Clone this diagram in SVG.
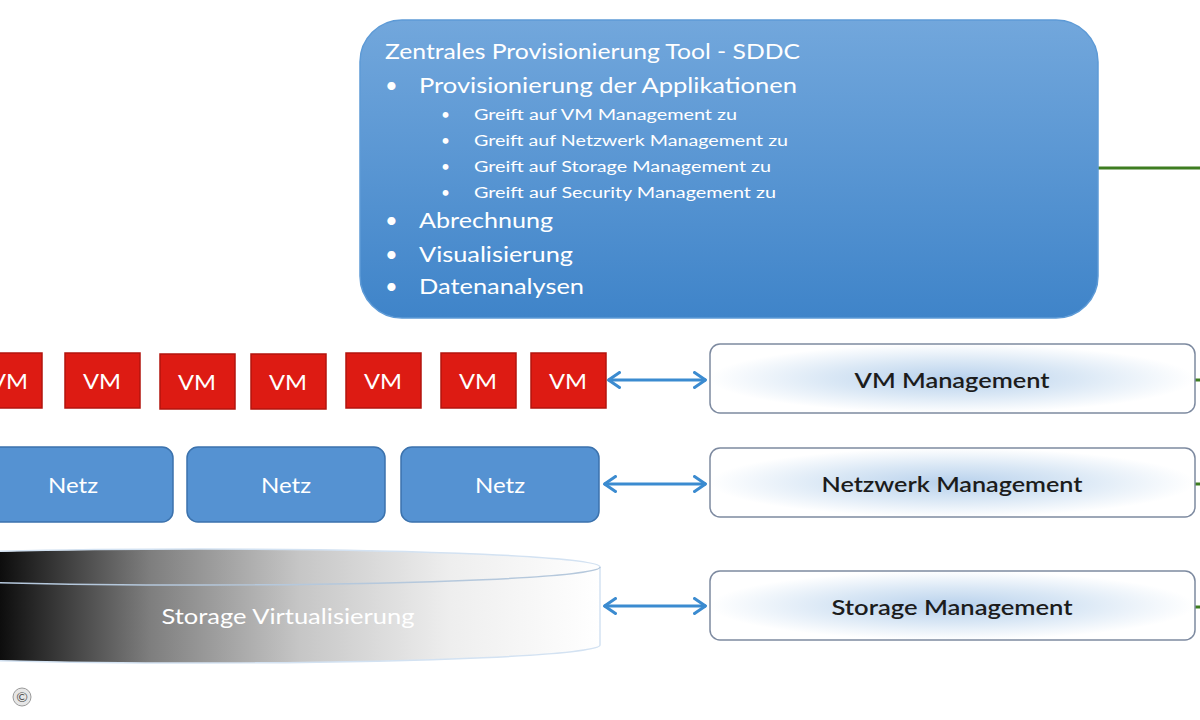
<svg xmlns="http://www.w3.org/2000/svg" width="1200" height="720" viewBox="0 0 1200 720">
<defs>
  <linearGradient id="gTop" x1="0" y1="0" x2="0" y2="1">
    <stop offset="0" stop-color="#72a7dc"/>
    <stop offset="1" stop-color="#3f84c9"/>
  </linearGradient>
  <radialGradient id="gMgmt" cx="0.5" cy="0.5" r="0.5">
    <stop offset="0" stop-color="#b8d1ec"/>
    <stop offset="0.5" stop-color="#d9e7f5"/>
    <stop offset="1" stop-color="#ffffff"/>
  </radialGradient>
  <linearGradient id="gCyl" x1="0" y1="0" x2="600" y2="0" gradientUnits="userSpaceOnUse">
    <stop offset="0" stop-color="#0d0d0d"/>
    <stop offset="0.25" stop-color="#7e7e7e"/>
    <stop offset="0.5" stop-color="#c6c6c6"/>
    <stop offset="0.75" stop-color="#eeeeee"/>
    <stop offset="1" stop-color="#ffffff"/>
  </linearGradient>
  <marker id="ah" viewBox="0 0 14 18" refX="13" refY="9" markerWidth="14" markerHeight="18" markerUnits="userSpaceOnUse" orient="auto-start-reverse">
    <path d="M1.5,1.5 L12.5,9 L1.5,16.5" fill="none" stroke="#3b8bd0" stroke-width="3" stroke-linecap="round" stroke-linejoin="round"/>
  </marker>
  <style>
    .t { font-family: Lato, "Open Sans", "Liberation Sans", sans-serif; }
    .w { fill: #ffffff; }
    .vm { fill: #dd1b13; stroke: #b3140e; stroke-width: 1.5; }
    .vmt { font-size: 21px; fill: #ffffff; text-anchor: middle; }
    .netz { fill: #5592d2; stroke: #3b72ad; stroke-width: 1.5; }
    .netzt { font-size: 21px; fill: #ffffff; text-anchor: middle; }
    .mg { fill: url(#gMgmt); stroke: #7d8aa0; stroke-width: 1.5; }
    .mgt { font-size: 21px; font-weight: 600; fill: #1c1c1c; text-anchor: middle; }
    .arr { stroke: #3b8bd0; stroke-width: 3; fill: none; marker-start: url(#ah); marker-end: url(#ah); }
    .grn { stroke: #3e7d20; stroke-width: 3; fill: none; }
    .big { font-size: 22px; }
    .ttl { font-size: 21px; }
    .small { font-size: 15.5px; }
  </style>
</defs>
<rect width="1200" height="720" fill="#ffffff"/>

<g id="connectors">
  <line class="grn" x1="1098" y1="168" x2="1200" y2="168"/>
  <line class="grn" x1="1195" y1="380" x2="1200" y2="380"/>
  <line class="grn" x1="1195" y1="484" x2="1200" y2="484"/>
  <line class="grn" x1="1195" y1="607" x2="1200" y2="607"/>
  <line class="arr" x1="608" y1="380" x2="706" y2="380"/>
  <line class="arr" x1="604" y1="484" x2="706" y2="484"/>
  <line class="arr" x1="604" y1="606" x2="706" y2="606"/>
</g>

<g id="sddc">
  <rect x="360" y="20" width="738" height="298" rx="42" fill="url(#gTop)" stroke="#5d9ad6" stroke-width="1.5"/>
  <g class="t w">
    <text x="385" y="59" class="ttl" textLength="415" lengthAdjust="spacingAndGlyphs">Zentrales Provisionierung Tool - SDDC</text>
    <text x="385" y="93" class="big">•</text>
    <text x="419" y="93" class="big" textLength="378" lengthAdjust="spacingAndGlyphs">Provisionierung der Applikationen</text>
    <text x="441" y="120" class="small">•</text>
    <text x="474" y="120" class="small" textLength="263" lengthAdjust="spacingAndGlyphs">Greift auf VM Management zu</text>
    <text x="441" y="146" class="small">•</text>
    <text x="474" y="146" class="small" textLength="314" lengthAdjust="spacingAndGlyphs">Greift auf Netzwerk Management zu</text>
    <text x="441" y="172" class="small">•</text>
    <text x="474" y="172" class="small" textLength="297" lengthAdjust="spacingAndGlyphs">Greift auf Storage Management zu</text>
    <text x="441" y="198" class="small">•</text>
    <text x="474" y="198" class="small" textLength="302" lengthAdjust="spacingAndGlyphs">Greift auf Security Management zu</text>
    <text x="385" y="228" class="big">•</text>
    <text x="419" y="228" class="big" textLength="134" lengthAdjust="spacingAndGlyphs">Abrechnung</text>
    <text x="385" y="262" class="big">•</text>
    <text x="419" y="262" class="big" textLength="154" lengthAdjust="spacingAndGlyphs">Visualisierung</text>
    <text x="385" y="294" class="big">•</text>
    <text x="419" y="294" class="big" textLength="165" lengthAdjust="spacingAndGlyphs">Datenanalysen</text>
  </g>
</g>

<g id="vms">
  <g id="vm1"><rect class="vm" x="-20" y="353" width="62" height="55"/><text class="t vmt" x="9" y="389" textLength="38" lengthAdjust="spacingAndGlyphs">VM</text></g>
  <g id="vm2"><rect class="vm" x="65" y="353" width="75" height="55"/><text class="t vmt" x="102" y="389" textLength="38" lengthAdjust="spacingAndGlyphs">VM</text></g>
  <g id="vm3"><rect class="vm" x="160" y="354" width="75" height="55"/><text class="t vmt" x="197" y="390" textLength="38" lengthAdjust="spacingAndGlyphs">VM</text></g>
  <g id="vm4"><rect class="vm" x="251" y="354" width="75" height="55"/><text class="t vmt" x="288" y="390" textLength="38" lengthAdjust="spacingAndGlyphs">VM</text></g>
  <g id="vm5"><rect class="vm" x="346" y="353" width="75" height="55"/><text class="t vmt" x="383" y="389" textLength="38" lengthAdjust="spacingAndGlyphs">VM</text></g>
  <g id="vm6"><rect class="vm" x="441" y="353" width="75" height="55"/><text class="t vmt" x="478" y="389" textLength="38" lengthAdjust="spacingAndGlyphs">VM</text></g>
  <g id="vm7"><rect class="vm" x="531" y="353" width="75" height="55"/><text class="t vmt" x="568" y="389" textLength="38" lengthAdjust="spacingAndGlyphs">VM</text></g>
</g>

<g id="netze">
  <g id="netz1"><rect class="netz" x="-20" y="447" width="193" height="75" rx="11"/><text class="t netzt" x="73" y="493" textLength="50" lengthAdjust="spacingAndGlyphs">Netz</text></g>
  <g id="netz2"><rect class="netz" x="187" y="447" width="198" height="75" rx="11"/><text class="t netzt" x="286" y="493" textLength="50" lengthAdjust="spacingAndGlyphs">Netz</text></g>
  <g id="netz3"><rect class="netz" x="401" y="447" width="198" height="75" rx="11"/><text class="t netzt" x="500" y="493" textLength="50" lengthAdjust="spacingAndGlyphs">Netz</text></g>
</g>

<g id="storage">
  <path d="M-200,567 A400,18 0 0 1 600,567 L600,645 A400,18 0 0 1 -200,645 Z" fill="url(#gCyl)" stroke="#d3e2f2" stroke-width="1.5"/>
  <path d="M-200,567 A400,18 0 0 0 600,567" fill="none" stroke="#b5c8dc" stroke-width="1.5"/>
  <text class="t" x="288" y="624" style="font-size:21px" fill="#ffffff" text-anchor="middle" textLength="253" lengthAdjust="spacingAndGlyphs">Storage Virtualisierung</text>
</g>

<g id="vm-management"><rect class="mg" x="710" y="344" width="485" height="69" rx="10"/><text class="t mgt" x="952" y="388" textLength="195" lengthAdjust="spacingAndGlyphs">VM Management</text></g>
<g id="netz-management"><rect class="mg" x="710" y="448" width="485" height="69" rx="10"/><text class="t mgt" x="952" y="492" textLength="261" lengthAdjust="spacingAndGlyphs">Netzwerk Management</text></g>
<g id="storage-management"><rect class="mg" x="710" y="571" width="485" height="69" rx="10"/><text class="t mgt" x="952" y="615" textLength="241" lengthAdjust="spacingAndGlyphs">Storage Management</text></g>

<g id="copyright">
  <circle cx="22" cy="697" r="9" fill="#e6e6e6" stroke="#9a9a9a" stroke-width="1"/>
  <text class="t" x="22" y="702" style="font-size:14px" fill="#555555" text-anchor="middle">©</text>
</g>
</svg>
